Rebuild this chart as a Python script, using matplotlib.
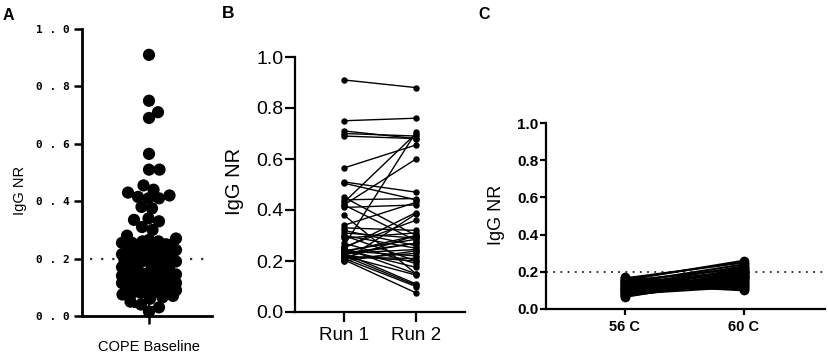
import numpy as np
import matplotlib
matplotlib.use("Agg")
import matplotlib.pyplot as plt

# ---------------- data ----------------
# Panel A: COPE baseline IgG NR values
cope_high = [0.91, 0.75, 0.71, 0.69, 0.565, 0.51, 0.51, 0.455, 0.44, 0.43, 0.42,
             0.415, 0.41, 0.41, 0.38, 0.375, 0.34, 0.335, 0.33, 0.31, 0.30, 0.28]
cope_low = [0.27, 0.265, 0.26, 0.26, 0.255, 0.255, 0.25, 0.25, 0.245, 0.245, 0.24, 0.24,
            0.235, 0.23, 0.225, 0.22, 0.22, 0.215,
            0.21, 0.21, 0.205, 0.205, 0.20, 0.20, 0.20, 0.195, 0.195, 0.19, 0.19, 0.185,
            0.18, 0.175, 0.17, 0.165, 0.16,
            0.155, 0.15, 0.15, 0.145, 0.14, 0.14, 0.135, 0.135,
            0.13, 0.13, 0.125, 0.125, 0.12, 0.12, 0.12, 0.115, 0.115, 0.11, 0.11, 0.105,
            0.10, 0.10, 0.095, 0.095, 0.09, 0.09, 0.085, 0.085, 0.08, 0.08,
            0.075, 0.07, 0.065, 0.06,
            0.05, 0.04, 0.03, 0.015]
cope_err_low, cope_err_mid, cope_err_high = 0.03, 0.13, 0.23
cutoff = 0.2
a_category = "COPE Baseline"
a_ticks = [0.0, 0.2, 0.4, 0.6, 0.8, 1.0]
a_ticklabels = ["0 . 0", "0 . 2", "0 . 4", "0 . 6", "0 . 8", "1 . 0"]

# Panel B: paired runs
b_categories = ["Run 1", "Run 2"]
run1 = [0.91, 0.75, 0.71, 0.70, 0.69, 0.565, 0.51, 0.505, 0.45, 0.44, 0.43, 0.42,
        0.42, 0.41, 0.38, 0.34, 0.33, 0.32, 0.31, 0.30, 0.30, 0.29, 0.27, 0.26,
        0.255, 0.25, 0.245, 0.24, 0.235, 0.23, 0.23, 0.225, 0.22, 0.22, 0.215,
        0.21, 0.21, 0.205, 0.20, 0.20, 0.24, 0.22, 0.21, 0.25, 0.23]
run2 = [0.88, 0.76, 0.68, 0.69, 0.68, 0.655, 0.47, 0.44, 0.30, 0.445, 0.70, 0.60,
        0.28, 0.42, 0.15, 0.43, 0.32, 0.26, 0.29, 0.25, 0.20, 0.31, 0.19, 0.705,
        0.36, 0.39, 0.175, 0.22, 0.30, 0.11, 0.245, 0.27, 0.105, 0.145, 0.21,
        0.23, 0.10, 0.075, 0.24, 0.385, 0.285, 0.20, 0.30, 0.15, 0.27]
b_ticks = [0.0, 0.2, 0.4, 0.6, 0.8, 1.0]

# Panel C: heat inactivation
c_categories = ["56 C", "60 C"]
c56 = [0.17, 0.165, 0.16, 0.155, 0.15, 0.15, 0.145, 0.14, 0.14, 0.135, 0.13, 0.13,
       0.125, 0.12, 0.12, 0.115, 0.11, 0.11, 0.105, 0.10, 0.10, 0.095, 0.09, 0.09,
       0.085, 0.08, 0.08, 0.075, 0.07, 0.065]
c60 = [0.13, 0.25, 0.12, 0.26, 0.14, 0.22, 0.11, 0.24, 0.19, 0.10, 0.21, 0.17,
       0.23, 0.16, 0.20, 0.18, 0.14, 0.21, 0.19, 0.15, 0.22, 0.17, 0.20, 0.13,
       0.18, 0.16, 0.12, 0.19, 0.15, 0.17]
c_ticks = [0.0, 0.2, 0.4, 0.6, 0.8, 1.0]

ylabel = "IgG NR"

# ---------------- figure ----------------
W, H = 829, 359
fig = plt.figure(figsize=(W / 100, H / 100), dpi=100)
SANS = "Liberation Sans"


def ax_px(left, right, bottom, top):
    return fig.add_axes([left / W, (H - bottom) / H, (right - left) / W, (bottom - top) / H])


def swarm_offsets(vals, ppu, d, maxoff, step=0.5):
    cands = [0.0]
    k = step
    while k <= maxoff + 1e-9:
        cands += [k, -k]
        k += step
    order = np.argsort(vals, kind="stable")
    placed = []
    xs = np.zeros(len(vals))
    for i in order:
        y = vals[i] * ppu
        best = None
        bestscore = -1
        bestc = 0.0
        for c in cands:
            if placed:
                arr = np.array(placed)
                md = np.min((arr[:, 0] - c) ** 2 + (arr[:, 1] - y) ** 2)
            else:
                md = np.inf
            if md >= d * d:
                best = c
                break
            if md > bestscore:
                bestscore = md
                bestc = c
        if best is None:
            best = bestc
        placed.append((best, y))
        xs[i] = best
    return xs


# ---------- Panel A ----------
A_left, A_right, A_bot, A_top = 82, 212, 316, 29
A_center = 149
axA = ax_px(A_left, A_right, A_bot, A_top)
vals_a = np.array(cope_high + cope_low)
ppu_a = A_bot - A_top
xoff = swarm_offsets(vals_a, ppu_a, 10.5, 27.0)
axA.set_xlim(A_left - A_center, A_right - A_center)
axA.set_ylim(0, 1)
axA.hlines(cutoff, A_left + 8 - A_center, A_right - A_center, colors="#333333",
           linestyles=(0, (1, 4)), linewidth=1.6, zorder=1)
axA.scatter(xoff, vals_a, s=8.8 ** 2, color="black", edgecolors="none", zorder=3,
            clip_on=False)
axA.vlines(0, cope_err_low, cope_err_high, colors="black", linewidth=1.5, zorder=4)
axA.hlines([cope_err_low, cope_err_high], -16, 16, colors="black", linewidth=1.5, zorder=4)
axA.set_yticks(a_ticks)
axA.set_yticklabels(a_ticklabels, family="DejaVu Sans Mono", fontweight="bold", fontsize=8)
axA.set_xticks([0])
axA.set_xticklabels([a_category], family=SANS, fontsize=10.5)
for s in ["top", "right"]:
    axA.spines[s].set_visible(False)
for s in ["left", "bottom"]:
    axA.spines[s].set_linewidth(2.0)
axA.tick_params(axis="y", length=6, width=1.8, pad=2.5)
axA.tick_params(axis="x", length=6, width=1.8, pad=11)
axA.set_ylabel(ylabel, family=SANS, fontsize=10.5)
axA.yaxis.set_label_coords((20 - A_left) / (A_right - A_left), (A_bot - 190) / (A_bot - A_top))
axA.yaxis.label.set_va("center")

# ---------- Panel B ----------
B_left, B_right, B_bot, B_top = 295, 465, 312, 57
axB = ax_px(B_left, B_right, B_bot, B_top)
B_x0, B_x1 = 344, 416
ux = B_x1 - B_x0
axB.set_xlim((B_left - B_x0) / ux, (B_right - B_x0) / ux)
axB.set_ylim(0, 1)
xb = np.arange(len(b_categories))
for a, b in zip(run1, run2):
    axB.plot(xb, [a, b], color="black", linewidth=1.0, marker="o", markersize=3.6,
             zorder=3, clip_on=False)
axB.set_xticks(xb)
axB.set_xticklabels(b_categories, family=SANS, fontsize=13.5)
axB.set_yticks(b_ticks)
axB.set_yticklabels([f"{t:.1f}" for t in b_ticks], family=SANS, fontsize=14)
for s in ["top", "right"]:
    axB.spines[s].set_visible(False)
for s in ["left", "bottom"]:
    axB.spines[s].set_linewidth(1.6)
axB.tick_params(axis="both", length=7, width=1.6)
axB.tick_params(axis="y", pad=1.5)
axB.tick_params(axis="x", pad=4)
axB.set_ylabel(ylabel, family=SANS, fontsize=14.5)
axB.yaxis.set_label_coords((235 - B_left) / (B_right - B_left), (B_bot - 181) / (B_bot - B_top))
axB.yaxis.label.set_va("center")

# ---------- Panel C ----------
C_left, C_right, C_bot, C_top = 546, 825, 309, 123
axC = ax_px(C_left, C_right, C_bot, C_top)
C_x0, C_x1 = 625, 744
uc = C_x1 - C_x0
axC.set_xlim((C_left - C_x0) / uc, (C_right - C_x0) / uc)
axC.set_ylim(0, 1)
axC.axhline(cutoff, color="#222222", linestyle=(0, (1, 3)), linewidth=1.3, zorder=1)
xc = np.arange(len(c_categories))
for a, b in zip(c56, c60):
    axC.plot(xc, [a, b], color="black", linewidth=1.5, marker="o", markersize=6,
             zorder=3)
axC.set_xticks(xc)
axC.set_xticklabels(c_categories, family=SANS, fontweight="bold", fontsize=10.5)
axC.set_yticks(c_ticks)
axC.set_yticklabels([f"{t:.1f}" for t in c_ticks], family=SANS, fontweight="bold",
                    fontsize=11)
for s in ["top", "right"]:
    axC.spines[s].set_visible(False)
for s in ["left", "bottom"]:
    axC.spines[s].set_linewidth(1.6)
axC.tick_params(axis="both", length=4, width=1.6)
axC.tick_params(axis="y", pad=1.5)
axC.tick_params(axis="x", pad=4)
axC.set_ylabel(ylabel, family=SANS, fontsize=13)
axC.yaxis.set_label_coords((497 - C_left) / (C_right - C_left), (C_bot - 215) / (C_bot - C_top))
axC.yaxis.label.set_va("center")

# Panel letters
for letter, (px, py), fs in [("A", (3, 8), 11.5), ("B", (222, 6), 12.5), ("C", (478, 7), 11.5)]:
    fig.text(px / W, 1 - py / H, letter, family=SANS, fontweight="bold", fontsize=fs,
             ha="left", va="top")

fig.savefig("out.png", dpi=100)
